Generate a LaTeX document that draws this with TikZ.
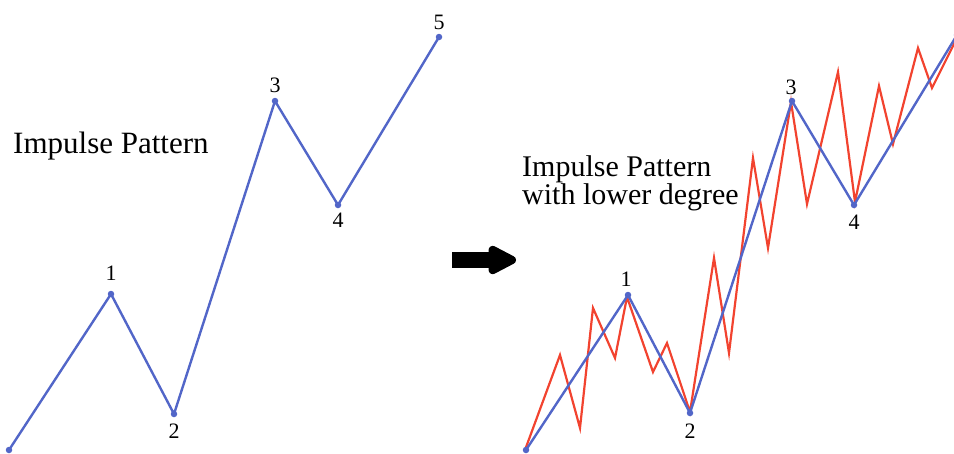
\documentclass[tikz,border=0pt]{standalone}
\usepackage{fontspec}
\setmainfont{Liberation Serif}
\usetikzlibrary{arrows.meta}
\definecolor{wavecol}{HTML}{5266C8}
\definecolor{subcol}{HTML}{F2432F}

\begin{document}
\begin{tikzpicture}[x=1pt, y=-1pt,
    wave/.style={draw=wavecol, line width=2.4pt, line join=round},
    subwave/.style={draw=subcol, line width=2.2pt, line join=miter},
    knot/.style={circle, fill=wavecol, inner sep=0pt, minimum size=6.5pt},
    count/.style={inner sep=0pt, font=\fontsize{22}{22}\selectfont},
    caption/.style={inner sep=0pt, align=left},
    block/.style={line width=16pt, -{Triangle[length=33pt, width=31pt, round]}}
]
    \useasboundingbox (0,0) rectangle (954,453);

    % left: the five waves
    \coordinate (p0) at (9,450);
    \coordinate (p1) at (111,294);
    \coordinate (p2) at (174,414);
    \coordinate (p3) at (275,101);
    \coordinate (p4) at (338,205);
    \coordinate (p5) at (439,37);
    \draw[wave] (p0) -- (p1) -- (p2) -- (p3) -- (p4) -- (p5);
    \foreach \i in {0,...,5}
        \node[knot] at (p\i) {};

    \node[count] (l1) at (111,273) {1};
    \node[count] (l2) at (174,431) {2};
    \node[count] (l3) at (275,85) {3};
    \node[count] (l4) at (338,220) {4};
    \node[count] (l5) at (439,22) {5};

    \node[caption, anchor=base west, font=\fontsize{31}{31}\selectfont] (titleL) at (13,153) {Impulse Pattern};

    % arrow between the two charts
    \coordinate (shiftA) at (452,260);
    \coordinate (shiftB) at (516,260);
    \draw[block] (shiftA) -- (shiftB);

    % right: the same waves with their sub-waves
    \draw[subwave] (525,450) -- (560,355) -- (580,428) -- (593,308) -- (615,358)
        -- (627,297) -- (653,372) -- (667,343) -- (690,412) -- (714,258) -- (729,353)
        -- (753,158) -- (768,248) -- (791,102) -- (807,204) -- (838,72) -- (855,202)
        -- (879,86) -- (893,144) -- (918,48) -- (932,88) -- (958,36);

    \coordinate (q0) at (526,450);
    \coordinate (q1) at (628,295);
    \coordinate (q2) at (690,413);
    \coordinate (q3) at (792,101);
    \coordinate (q4) at (854,205);
    \coordinate (q5) at (957,35);
    \draw[wave] (q0) -- (q1) -- (q2) -- (q3) -- (q4) -- (q5);
    \foreach \i in {0,...,5}
        \node[knot] at (q\i) {};

    \node[count] (m1) at (626,279) {1};
    \node[count] (m2) at (690,431) {2};
    \node[count] (m3) at (791,87) {3};
    \node[count] (m4) at (854,222) {4};
    \node[count] (m5) at (959,22) {5};

    \node[caption, anchor=north west, font=\fontsize{30}{28}\selectfont] (titleR) at (522,155)
        {Impulse Pattern\\with lower degree};
\end{tikzpicture}
\end{document}
